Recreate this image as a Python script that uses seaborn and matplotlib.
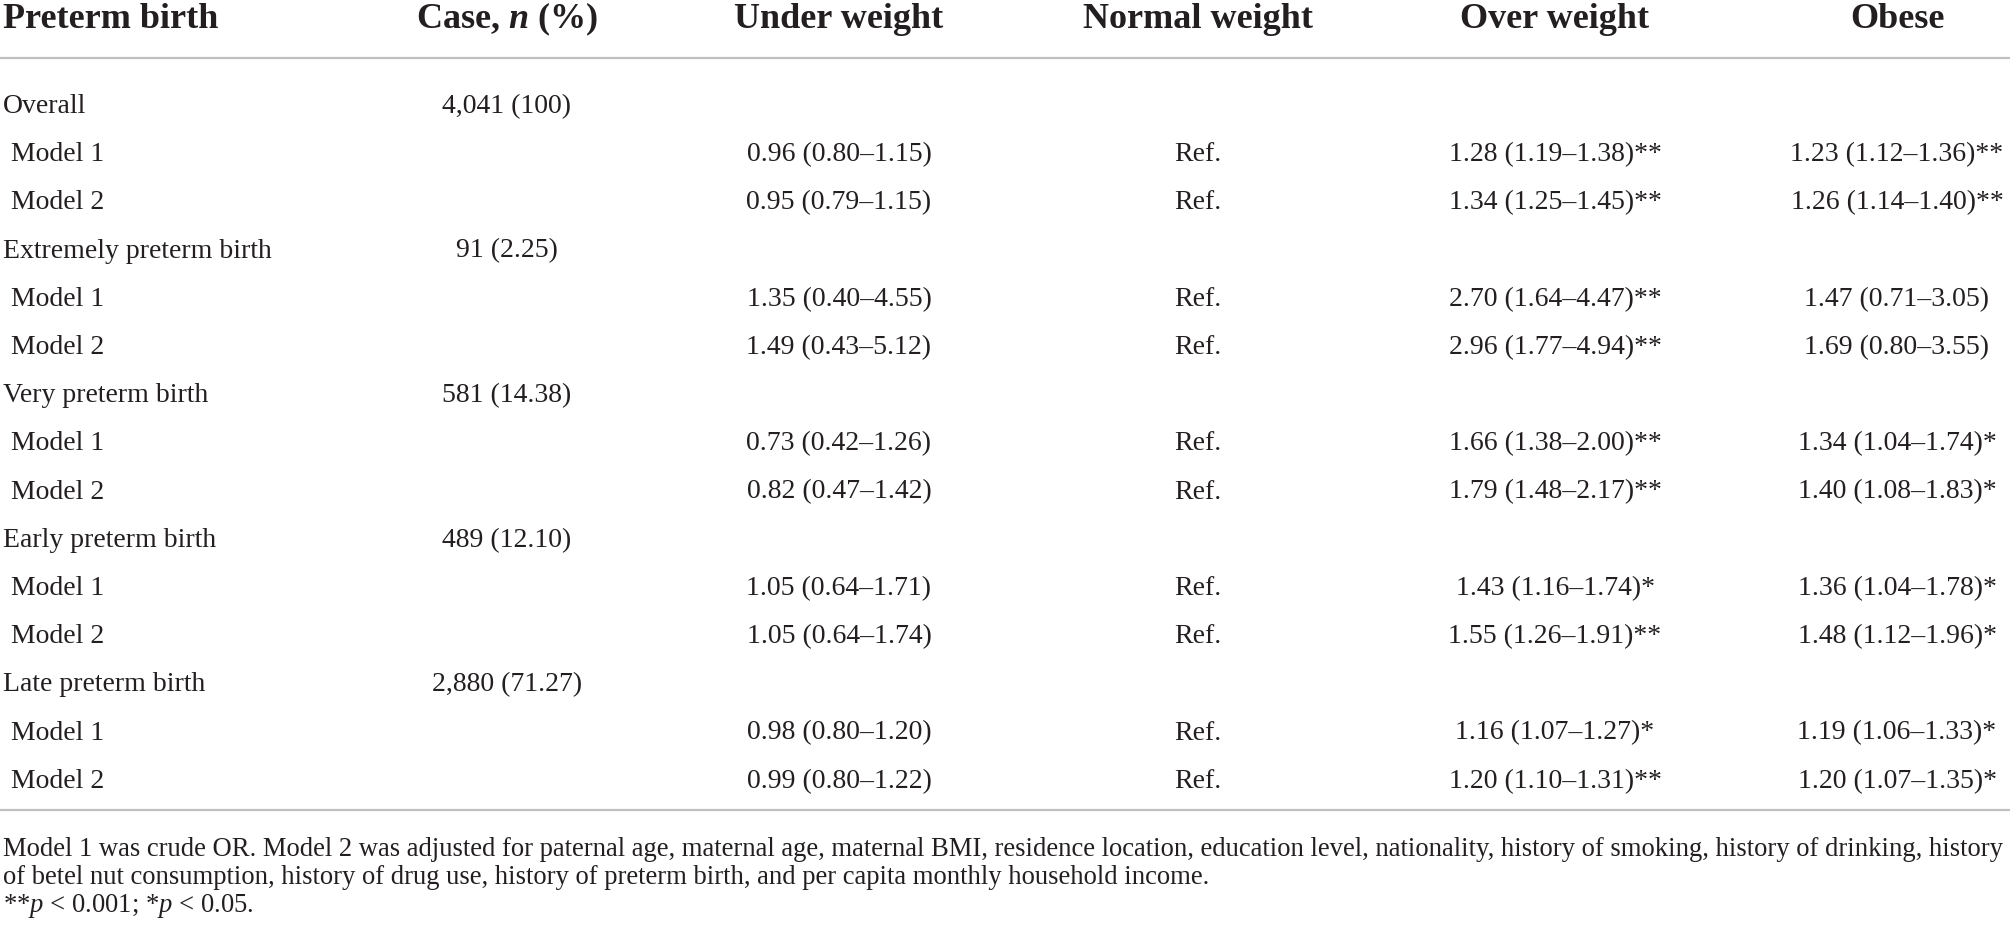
import matplotlib
matplotlib.use("Agg")
import matplotlib.pyplot as plt
import seaborn as sns

# table content
columns = ["Preterm birth", r"Case, $\mathbfit{n}$ (%)", "Under weight", "Normal weight", "Over weight", "Obese"]
groups = ["Overall", "Extremely preterm birth", "Very preterm birth", "Early preterm birth", "Late preterm birth"]
cases = ["4,041 (100)", "91 (2.25)", "581 (14.38)", "489 (12.10)", "2,880 (71.27)"]
models = ["Model 1", "Model 2"]
under_weight = ["0.96 (0.80–1.15)", "0.95 (0.79–1.15)", "1.35 (0.40–4.55)", "1.49 (0.43–5.12)",
                "0.73 (0.42–1.26)", "0.82 (0.47–1.42)", "1.05 (0.64–1.71)", "1.05 (0.64–1.74)",
                "0.98 (0.80–1.20)", "0.99 (0.80–1.22)"]
normal_weight = ["Ref."] * 10
over_weight = ["1.28 (1.19–1.38)**", "1.34 (1.25–1.45)**", "2.70 (1.64–4.47)**", "2.96 (1.77–4.94)**",
               "1.66 (1.38–2.00)**", "1.79 (1.48–2.17)**", "1.43 (1.16–1.74)*", "1.55 (1.26–1.91)**",
               "1.16 (1.07–1.27)*", "1.20 (1.10–1.31)**"]
obese = ["1.23 (1.12–1.36)**", "1.26 (1.14–1.40)**", "1.47 (0.71–3.05)", "1.69 (0.80–3.55)",
         "1.34 (1.04–1.74)*", "1.40 (1.08–1.83)*", "1.36 (1.04–1.78)*", "1.48 (1.12–1.96)*",
         "1.19 (1.06–1.33)*", "1.20 (1.07–1.35)*"]
footnotes = [
    "Model 1 was crude OR. Model 2 was adjusted for paternal age, maternal age, maternal BMI, residence location, "
    "education level, nationality, history of smoking, history of drinking, history",
    "of betel nut consumption, history of drug use, history of preterm birth, and per capita monthly household income.",
    r"**$\mathit{p}$ < 0.001; *$\mathit{p}$ < 0.05.",
]

sns.set_theme(style="white")
plt.rcParams["font.family"] = ["Liberation Serif", "DejaVu Serif"]
plt.rcParams["mathtext.fontset"] = "custom"
plt.rcParams["mathtext.rm"] = "Liberation Serif"
plt.rcParams["mathtext.it"] = "Liberation Serif:italic"
plt.rcParams["mathtext.bf"] = "Liberation Serif:bold"
plt.rcParams["mathtext.bfit"] = "Liberation Serif:italic:bold"

W, H = 2010, 934
fig = plt.figure(figsize=(W / 100, H / 100), dpi=100)
ax = fig.add_axes([0, 0, 1, 1])
ax.set_xlim(0, W)
ax.set_ylim(H, 0)
ax.axis("off")

ink = "#231f20"
rule = "#c0c0c0"
col_x = [3, 507, 839, 1198, 1555, 1897]
head_size, body_size = 26, 20

# header
for i, name in enumerate(columns):
    ax.text(col_x[i], 28, name, ha="left" if i == 0 else "center", va="baseline",
            fontsize=head_size, fontweight="bold", color=ink)
ax.plot([0, W], [58, 58], color=rule, lw=1.6)

# body rows
row_gap = 48.2
row = 0
k = 0
for g, group in enumerate(groups):
    yb = 113 + row_gap * row
    ax.text(col_x[0], yb, group, ha="left", va="baseline", fontsize=body_size, color=ink)
    ax.text(col_x[1], yb, cases[g], ha="center", va="baseline", fontsize=body_size, color=ink)
    row += 1
    for m in models:
        yb = 113 + row_gap * row
        ax.text(col_x[0] + 8, yb, m, ha="left", va="baseline", fontsize=body_size, color=ink)
        for c, vals in zip(col_x[2:], [under_weight, normal_weight, over_weight, obese]):
            ax.text(c, yb, vals[k], ha="center", va="baseline", fontsize=body_size, color=ink)
        row += 1
        k += 1

ax.plot([0, W], [810, 810], color=rule, lw=1.6)

# footnotes, sized so the first line spans the width
foot_size = 17
probe = ax.text(3, 856, footnotes[0], fontsize=foot_size)
fig.canvas.draw()
wpx = probe.get_window_extent().width
probe.remove()
foot_size = foot_size * 2002 / wpx
for j, line in enumerate(footnotes):
    ax.text(3, 856 + 28 * j, line, ha="left", va="baseline", fontsize=foot_size, color=ink)

fig.savefig("out.png", dpi=100, facecolor="white")
